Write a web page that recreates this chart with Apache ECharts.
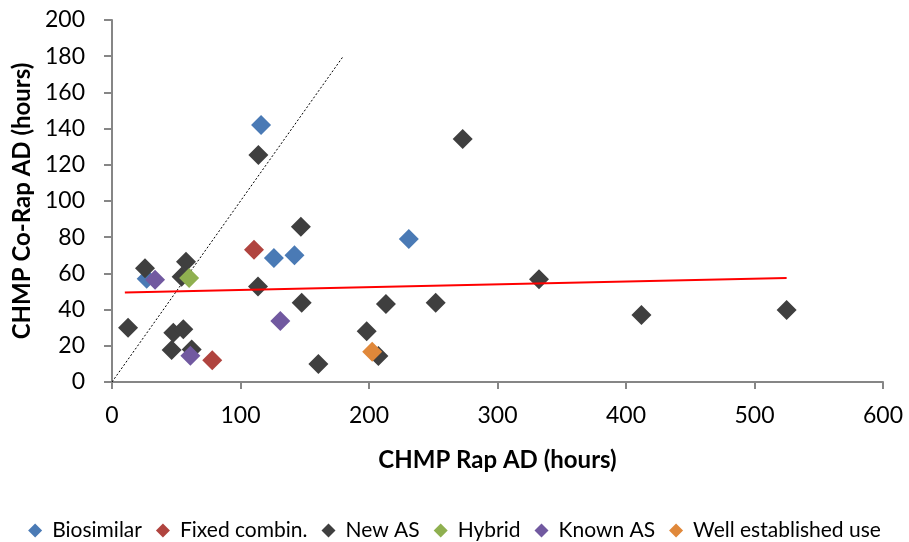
<!DOCTYPE html>
<html>
<head>
<meta charset="utf-8">
<script src="https://cdn.jsdelivr.net/npm/echarts@6/dist/echarts.min.js"></script>
<style>html,body{margin:0;padding:0;background:#fff}#c{width:909px;height:542px}</style>
</head>
<body>
<div id="c"></div>
<script>
// Data
const seriesNames = ['Biosimilar', 'Fixed combin.', 'New AS', 'Hybrid', 'Known AS', 'Well established use'];
const biosimilarX = [27, 116, 126, 142, 231];
const biosimilarY = [57, 142, 68.5, 70, 79];
const fixedX = [78, 110.5];
const fixedY = [12, 73];
const newASX = [12.5, 25.7, 46.4, 47.7, 54.2, 55.5, 57.6, 62, 113.6, 113.9, 147, 147.6, 160.6, 198.2, 207.3, 213.2, 251.9, 272.9, 332.3, 412, 525];
const newASY = [30, 62.8, 17.7, 27.2, 58.2, 29.1, 66.5, 18, 52.7, 125.4, 85.8, 43.8, 10, 28, 14.4, 43.1, 43.8, 134.3, 56.7, 37, 39.8];
const hybridX = [60];
const hybridY = [57.5];
const knownX = [33.5, 61, 131];
const knownY = [56.5, 14.5, 33.7];
const wellX = [202.5];
const wellY = [16.7];
const trendX = [10, 525];
const trendY = [49.5, 57.5];
const diagX = [0, 180];
const diagY = [0, 180];
const colors = ['#4a7ab5', '#b0443f', '#3f3f3f', '#8fb050', '#7159a0', '#e0883a'];

const zip = (xs, ys) => xs.map((x, i) => [x, ys[i]]);
const groups = [[biosimilarX, biosimilarY], [fixedX, fixedY], [newASX, newASY], [hybridX, hybridY], [knownX, knownY], [wellX, wellY]];
const font = 'Lato, "Open Sans", sans-serif';

const series = groups.map((g, i) => ({
  name: seriesNames[i],
  type: 'scatter',
  symbol: 'diamond',
  symbolSize: 20,
  data: zip(g[0], g[1]),
  itemStyle: { color: colors[i], opacity: 1 },
  z: 2 + i
}));
series.push({
  name: 'trend', type: 'line', data: zip(trendX, trendY), symbol: 'none',
  lineStyle: { color: '#ff0000', width: 2 }, z: 20, silent: true
});
series.push({
  name: 'diag', type: 'line', data: zip(diagX, diagY), symbol: 'none',
  lineStyle: { color: '#000', width: 1, type: [2, 2] }, z: 1, silent: true
});

const chart = echarts.init(document.getElementById('c'));
chart.setOption({
  animation: false,
  backgroundColor: '#fff',
  grid: { left: 112, right: 26, top: 20, bottom: 160, containLabel: false },
  legend: {
    data: seriesNames.map((n, i) => ({ name: n, icon: 'diamond', itemStyle: { color: colors[i] } })),
    top: 515, left: 'center', itemWidth: 14, itemHeight: 14, itemGap: 14,
    textStyle: { fontFamily: font, fontSize: 21, color: '#000', padding: [0, 0, 0, 5] }
  },
  xAxis: {
    type: 'value', min: 0, max: 600, interval: 100,
    name: 'CHMP Rap AD (hours)', nameLocation: 'middle', nameGap: 66,
    nameTextStyle: { fontFamily: font, fontSize: 24, fontWeight: 'bold', color: '#000' },
    axisLine: { show: true, lineStyle: { color: '#868686', width: 2 } },
    axisTick: { show: true, length: 7, lineStyle: { color: '#868686', width: 2 } },
    axisLabel: { fontFamily: font, fontSize: 23, color: '#000', margin: 22 },
    splitLine: { show: false }
  },
  yAxis: {
    type: 'value', min: 0, max: 200, interval: 20,
    name: 'CHMP Co-Rap AD (hours)', nameLocation: 'middle', nameGap: 70, nameRotate: 90,
    nameTextStyle: { fontFamily: font, fontSize: 24, fontWeight: 'bold', color: '#000' },
    axisLine: { show: true, lineStyle: { color: '#868686', width: 2 } },
    axisTick: { show: true, length: 8, lineStyle: { color: '#868686', width: 2 } },
    axisLabel: { fontFamily: font, fontSize: 23, color: '#000', margin: 27 },
    splitLine: { show: false }
  },
  series: series
});
</script>
</body>
</html>
